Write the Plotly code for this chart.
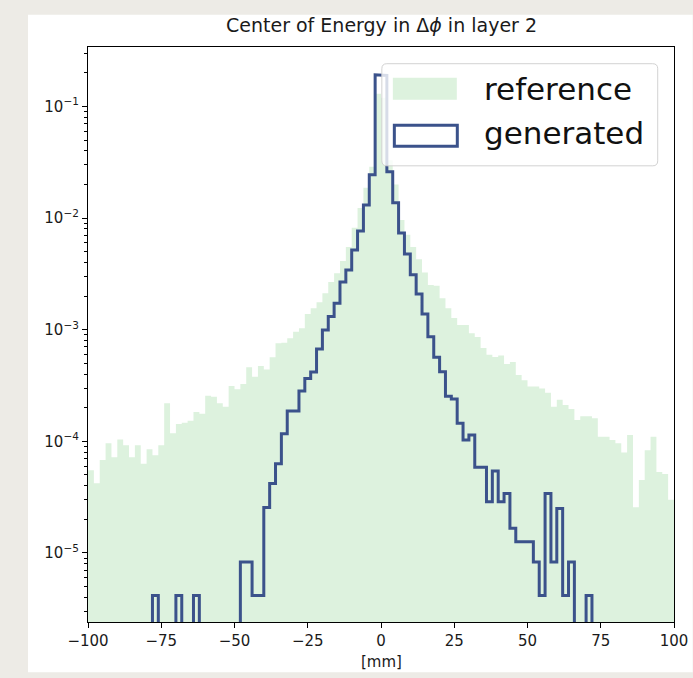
import numpy as np
import plotly.graph_objects as go

# ---------------- data ----------------
bin_edges = np.linspace(-100, 100, 101)

reference = [
    5.5e-5, 4.2e-5, 6.8e-5, 9.6e-5, 7.2e-5, 1.04e-4, 9.2e-5, 7.2e-5, 9.2e-5, 6.3e-5,
    8.5e-5, 7.5e-5, 9.2e-5, 2.19e-4, 1.18e-4, 1.43e-4, 1.47e-4, 1.53e-4, 1.83e-4, 1.77e-4,
    2.56e-4, 2.51e-4, 2.19e-4, 2.04e-4, 3.13e-4, 2.92e-4, 3.27e-4, 4.6e-4, 3.79e-4, 4.72e-4,
    4.41e-4, 5.65e-4, 7.55e-4, 7.64e-4, 8.37e-4, 9.6e-4, 1.03e-3, 1.38e-3, 1.56e-3, 1.76e-3,
    2.12e-3, 2.68e-3, 3.21e-3, 4.13e-3, 5.5e-3, 8.2e-3, 1.23e-2, 1.87e-2, 2.88e-2, 0.13,
    0.12, 3.3e-2, 2.0e-2, 9.6e-3, 7.1e-3, 5.5e-3, 4.28e-3, 3.25e-3, 2.52e-3, 2.47e-3,
    1.91e-3, 1.56e-3, 1.27e-3, 1.1e-3, 1.1e-3, 9.3e-4, 8.6e-4, 6.86e-4, 5.97e-4, 5.69e-4,
    5.87e-4, 4.92e-4, 5.13e-4, 3.93e-4, 3.52e-4, 3.1e-4, 3.1e-4, 2.98e-4, 2.73e-4, 2.04e-4,
    2.36e-4, 2.11e-4, 1.95e-4, 1.55e-4, 1.68e-4, 1.68e-4, 1.61e-4, 1.1e-4, 1.1e-4, 1.03e-4,
    9.6e-5, 7.95e-5, 1.14e-4, 2.57e-5, 4.49e-5, 8.3e-5, 1.1e-4, 5.3e-5, 5.1e-5, 3.0e-5,
]

generated = [
    0, 0, 0, 0, 0, 0, 0, 0, 0, 0,
    0, 4.15e-6, 0, 0, 0, 4.15e-6, 0, 0, 4.15e-6, 0,
    0, 0, 0, 0, 0, 0, 8.3e-6, 8.3e-6, 4.15e-6, 4.15e-6,
    2.55e-5, 4.19e-5, 6.3e-5, 1.17e-4, 1.87e-4, 1.87e-4, 2.82e-4, 3.65e-4, 4.18e-4, 6.71e-4,
    9.94e-4, 1.31e-3, 1.73e-3, 2.68e-3, 3.43e-3, 5.19e-3, 7.68e-3, 1.31e-2, 2.44e-2, 0.192,
    0.19, 2.6e-2, 1.37e-2, 7.36e-3, 4.77e-3, 3.1e-3, 2.09e-3, 1.38e-3, 8.65e-4, 5.65e-4,
    4.2e-4, 2.54e-4, 2.39e-4, 1.45e-4, 1.03e-4, 1.14e-4, 5.87e-5, 5.87e-5, 2.87e-5, 5.43e-5,
    2.87e-5, 3.41e-5, 1.66e-5, 1.26e-5, 1.26e-5, 1.26e-5, 8.3e-6, 4.15e-6, 3.41e-5, 8.3e-6,
    2.5e-5, 4.15e-6, 8.3e-6, 0, 0, 4.15e-6, 0, 0, 0, 0,
    0, 0, 0, 0, 0, 0, 0, 0, 0, 0,
]

x_ticks = [-100, -75, -50, -25, 0, 25, 50, 75, 100]
x_ticktext = ["\u2212100", "\u221275", "\u221250", "\u221225", "0", "25", "50", "75", "100"]
y_exponents = [-5, -4, -3, -2, -1]

title_text = "Center of Energy in \u0394<i>\u03d5</i> in layer 2"
xlabel_text = "[mm]"
legend_labels = ["reference", "generated"]

# ---------------- styling ----------------
GREEN = "rgb(221,242,222)"
BLUE = "#3b528b"
FLOOR = 1e-9   # stand-in for empty bins on the log axis (far below view)

W, H = 693, 678
L_PX, R_PX, T_PX, B_PX = 88.0, 674.3, 47.3, 621.7
Y_LOG_RANGE = [-5.619, -0.467]


def px2x(px):
    return (px - L_PX) / (R_PX - L_PX)


def py2y(py):
    return (B_PX - py) / (B_PX - T_PX)


def step_xy(edges, vals):
    xs, ys = [edges[0]], [FLOOR]
    for i, v in enumerate(vals):
        v = v if v > 0 else FLOOR
        xs += [edges[i], edges[i + 1]]
        ys += [v, v]
    xs.append(edges[-1])
    ys.append(FLOOR)
    return xs, ys


fig = go.Figure()

rx, ry = step_xy(bin_edges, reference)
fig.add_trace(go.Scatter(x=rx, y=ry, mode="lines", fill="toself", fillcolor=GREEN,
                         line=dict(width=0, color=GREEN), name=legend_labels[0],
                         hoverinfo="skip"))

gx, gy = step_xy(bin_edges, generated)
fig.add_trace(go.Scatter(x=gx, y=gy, mode="lines",
                         line=dict(width=3, color=BLUE), name=legend_labels[1],
                         hoverinfo="skip"))

minor_vals = [k * 10.0 ** d for d in range(-6, 0) for k in range(2, 10)]

font_family = "DejaVu Sans"

fig.update_layout(
    width=W, height=H,
    margin=dict(l=L_PX, r=W - R_PX, t=T_PX, b=H - B_PX, autoexpand=False),
    paper_bgcolor="rgb(237,235,230)",
    plot_bgcolor="white",
    showlegend=False,
    font=dict(family=font_family, size=15, color="#1a1a1a"),
    xaxis=dict(range=[-100, 100], tickmode="array", tickvals=x_ticks, ticktext=x_ticktext,
               ticks="outside", ticklen=5, tickwidth=1.2, tickcolor="black",
               showline=True, mirror=True, linecolor="black", linewidth=1.2,
               showgrid=False, zeroline=False, tickfont=dict(size=15)),
    yaxis=dict(type="log", range=Y_LOG_RANGE, tickmode="array",
               tickvals=[10.0 ** e for e in y_exponents],
               ticktext=["10<sup>\u2212%d</sup>" % (-e) for e in y_exponents],
               ticks="outside", ticklen=5, tickwidth=1.2, tickcolor="black",
               showline=True, mirror=True, linecolor="black", linewidth=1.2,
               showgrid=False, zeroline=False, tickfont=dict(size=15),
               minor=dict(tickmode="array", tickvals=minor_vals, ticks="outside",
                          ticklen=3, tickwidth=1, tickcolor="black", showgrid=False)),
)

# white panel behind the figure
fig.add_shape(type="rect", xref="paper", yref="paper", layer="below",
              x0=px2x(28), x1=px2x(693), y0=py2y(672), y1=py2y(15),
              fillcolor="white", line=dict(width=0))

# title & axis label
fig.add_annotation(text=title_text, xref="paper", yref="paper", x=0.5, y=py2y(38),
                   xanchor="center", yanchor="bottom", showarrow=False,
                   font=dict(size=19, family=font_family, color="#1a1a1a"))
fig.add_annotation(text=xlabel_text, xref="paper", yref="paper", x=0.5, y=py2y(651),
                   xanchor="center", yanchor="top", showarrow=False,
                   font=dict(size=15, family=font_family, color="#1a1a1a"))

# legend (manual)
lx0, lx1, ly0, ly1, r = px2x(382), px2x(658), py2y(64), py2y(166), 5
rx_p = r / (R_PX - L_PX)
ry_p = r / (B_PX - T_PX)
path = (f"M {lx0 + rx_p},{ly0} L {lx1 - rx_p},{ly0} Q {lx1},{ly0} {lx1},{ly0 - ry_p} "
        f"L {lx1},{ly1 + ry_p} Q {lx1},{ly1} {lx1 - rx_p},{ly1} L {lx0 + rx_p},{ly1} "
        f"Q {lx0},{ly1} {lx0},{ly1 + ry_p} L {lx0},{ly0 - ry_p} Q {lx0},{ly0} {lx0 + rx_p},{ly0} Z")
fig.add_shape(type="path", path=path, xref="paper", yref="paper", layer="above",
              fillcolor="rgba(255,255,255,0.8)", line=dict(color="rgb(210,210,210)", width=1))
fig.add_shape(type="rect", xref="paper", yref="paper", layer="above",
              x0=px2x(393), x1=px2x(457), y0=py2y(100), y1=py2y(78),
              fillcolor=GREEN, line=dict(width=0))
fig.add_shape(type="rect", xref="paper", yref="paper", layer="above",
              x0=px2x(394.5), x1=px2x(457.5), y0=py2y(146.5), y1=py2y(125.5),
              fillcolor="rgba(0,0,0,0)", line=dict(color=BLUE, width=3))
for lab, cy in zip(legend_labels, [89, 133]):
    fig.add_annotation(text=lab, xref="paper", yref="paper", x=px2x(482), y=py2y(cy),
                       xanchor="left", yanchor="middle", showarrow=False,
                       font=dict(size=31, family=font_family, color="#111"))

fig.write_html("out.html")
